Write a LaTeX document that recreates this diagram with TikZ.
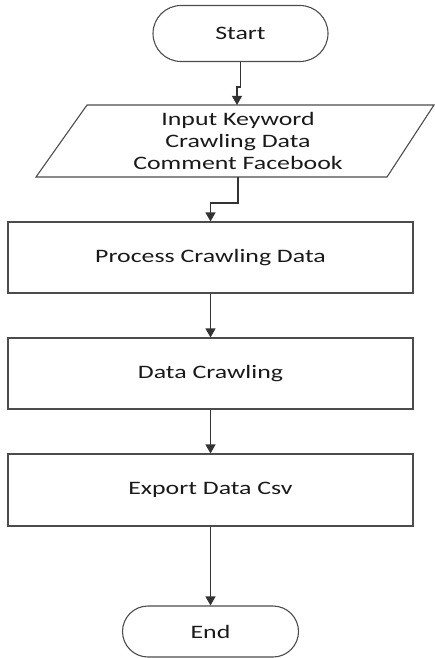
\documentclass[tikz,border=0pt]{standalone}
\usepackage{fontspec}
\setmainfont{Carlito}[FakeStretch=1.36]
\usetikzlibrary{shapes.misc,arrows.meta}
\begin{document}
\begin{tikzpicture}[x=1pt,y=-1pt,
  line/.style={draw=black!70,line width=1.1pt},
  term/.style={line,rounded rectangle,minimum width=175pt,minimum height=56pt,inner sep=0pt},
  procbox/.style={line,rectangle,minimum width=405pt,inner sep=0pt},
  lbl/.style={font=\fontsize{19}{22}\selectfont,text=black!90,align=center},
  arr/.style={draw=black!80,line width=1.1pt,-{Triangle[width=10pt,length=9pt]}}]
\useasboundingbox (0,0) rectangle (434,658);
\node[term,lbl] (start) at (240.5,33.5) {Start};
\draw[line] (87,105) -- (434,105) -- (387,177) -- (36,177) -- cycle;
\node[lbl] (input) at (238,141) {Input Keyword\\Crawling Data\\Comment Facebook};
\coordinate (inTop) at (237,105);
\coordinate (inBot) at (238,177);
\node[procbox,lbl,minimum height=71pt] (proc) at (210.5,257.5) {Process Crawling Data};
\node[procbox,lbl,minimum height=71pt] (dc) at (210.5,373.5) {Data Crawling};
\node[procbox,lbl,minimum height=72pt] (exp) at (210.5,490) {Export Data Csv};
\node[term,lbl,minimum width=176pt,minimum height=51pt] (stop) at (210.5,631.5) {End};
\draw[arr] (start.south) -- ++(0,25) -| (inTop);
\draw[arr] (inBot) -- ++(0,26) -| (proc.north);
\draw[arr] (proc.south) -- (dc.north);
\draw[arr] (dc.south) -- (exp.north);
\draw[arr] (exp.south) -- (stop.north);
\end{tikzpicture}
\end{document}
